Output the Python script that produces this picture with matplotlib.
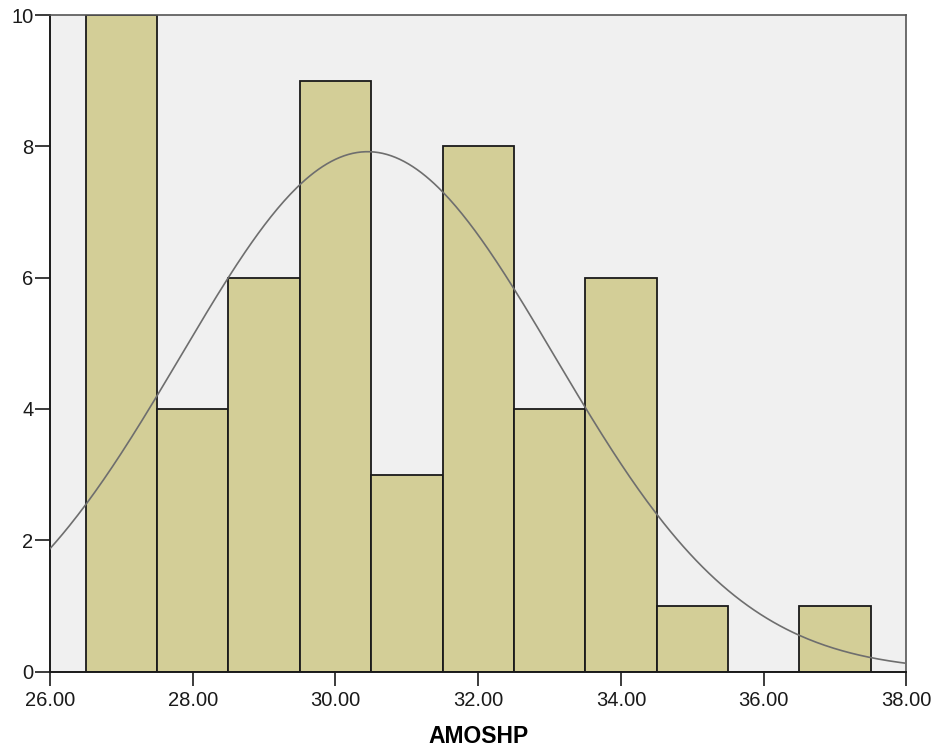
import numpy as np
import matplotlib
matplotlib.use("Agg")
import matplotlib.pyplot as plt

# Data
bin_edges = [26.5, 27.5, 28.5, 29.5, 30.5, 31.5, 32.5, 33.5, 34.5, 35.5, 36.5, 37.5]
counts = [10, 4, 6, 9, 3, 8, 4, 6, 1, 0, 1]
mean_val = 30.45
sd_val = 2.62
x_ticks = [26, 28, 30, 32, 34, 36, 38]
x_tick_labels = ["26.00", "28.00", "30.00", "32.00", "34.00", "36.00", "38.00"]
y_ticks = [0, 2, 4, 6, 8, 10]
x_label = "AMOSHP"

plt.rcParams['font.family'] = ['Liberation Sans', 'DejaVu Sans']

fig = plt.figure(figsize=(9.38, 7.54), dpi=100)
ax = fig.add_axes([0.0533, 0.1094, 0.9131, 0.8707])
ax.set_facecolor('#F0F0F0')

lefts = bin_edges[:-1]
widths = np.diff(bin_edges)
ax.bar(lefts, counts, width=widths, align='edge', color='#D3CE97',
       edgecolor='#1a1a1a', linewidth=1.3, zorder=2)

n = sum(counts)
bw = widths[0]
xs = np.linspace(26, 38, 400)
ys = n * bw / (sd_val * np.sqrt(2 * np.pi)) * np.exp(-0.5 * ((xs - mean_val) / sd_val) ** 2)
ax.plot(xs, ys, color='#6e6e6e', linewidth=1.2, zorder=3)

ax.set_xlim(26, 38)
ax.set_ylim(0, 10)
ax.set_xticks(x_ticks)
ax.set_xticklabels(x_tick_labels)
ax.set_yticks(y_ticks)
ax.tick_params(axis='x', direction='out', length=10, width=1.2, pad=4, labelsize=14.5, colors='#1a1a1a')
ax.tick_params(axis='y', direction='out', length=11, width=1.2, pad=1, labelsize=14.5, colors='#1a1a1a')
for s in ['left', 'bottom']:
    ax.spines[s].set_linewidth(1.4)
    ax.spines[s].set_color('#1a1a1a')
for s in ['top', 'right']:
    ax.spines[s].set_linewidth(1.2)
    ax.spines[s].set_color('#555555')
ax.set_xlabel(x_label, fontsize=16.5, fontweight='bold', labelpad=11)

fig.savefig('out.png', dpi=100)
